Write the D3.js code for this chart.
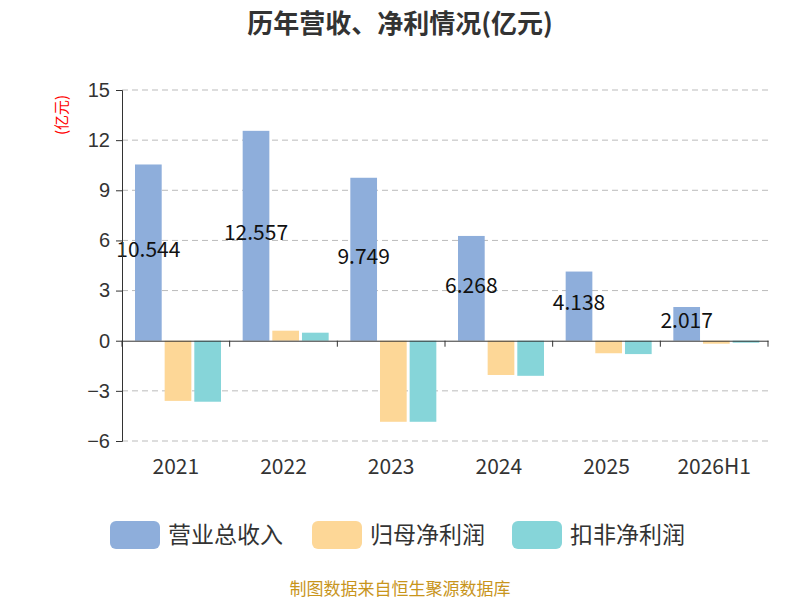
<!DOCTYPE html>
<html><head><meta charset="utf-8">
<script src="https://cdn.jsdelivr.net/npm/d3@7"></script>
<style>body{margin:0;background:#fff;font-family:"Noto Sans CJK SC","Noto Sans",sans-serif}</style>
</head><body><div id="wrapper"></div>
<script>
const years = ["2021", "2022", "2023", "2024", "2025", "2026H1"]
const seriesNames = ["营业总收入", "归母净利润", "扣非净利润"]
const revenue = [10.544, 12.557, 9.749, 6.268, 4.138, 2.017]
const netProfit = [-3.6, 0.6, -4.85, -2.05, -0.75, -0.18]
const deductedProfit = [-3.65, 0.48, -4.85, -2.1, -0.8, -0.12]
const yTicks = [-6, -3, 0, 3, 6, 9, 12, 15]
const colors = ["#8eaedb", "#fdd797", "#86d5d9"]

const dimensions = {width: 800, height: 600, margin: {top: 90, right: 32, bottom: 159, left: 122}}
dimensions.boundedWidth = dimensions.width - dimensions.margin.left - dimensions.margin.right
dimensions.boundedHeight = dimensions.height - dimensions.margin.top - dimensions.margin.bottom

const svg = d3.select("#wrapper").append("svg")
  .attr("width", dimensions.width).attr("height", dimensions.height)

svg.append("text").attr("x", 400).attr("y", 33).attr("text-anchor", "middle")
  .style("font-size", "26px").style("font-weight", "bold").attr("fill", "#333")
  .text("历年营收、净利情况(亿元)")

const bounds = svg.append("g")
  .attr("transform", `translate(${dimensions.margin.left},${dimensions.margin.top})`)

const yScale = d3.scaleLinear().domain([-6, 15]).range([dimensions.boundedHeight, 0])
const xScale = d3.scaleBand().domain(years).range([0, dimensions.boundedWidth])
const inner = d3.scaleBand().domain([0, 1, 2]).range([13, 99]).paddingInner(0.1)

bounds.selectAll(".grid").data(yTicks.filter(d => d !== 0)).join("line")
  .attr("x1", 0).attr("x2", dimensions.boundedWidth)
  .attr("y1", d => yScale(d)).attr("y2", d => yScale(d))
  .attr("stroke", "#bbb").attr("stroke-dasharray", "6 4")

const series = [revenue, netProfit, deductedProfit]
series.forEach((vals, s) => {
  bounds.selectAll(".bar" + s).data(vals).join("rect")
    .attr("x", (d, i) => xScale(years[i]) + inner(s))
    .attr("width", inner.bandwidth())
    .attr("y", d => yScale(Math.max(0, d)))
    .attr("height", d => Math.abs(yScale(d) - yScale(0)))
    .attr("fill", colors[s])
})

bounds.selectAll(".lbl").data(revenue).join("text")
  .attr("x", (d, i) => xScale(years[i]) + inner(0) + inner.bandwidth() / 2)
  .attr("y", d => (yScale(d) + yScale(0)) / 2 - 3)
  .attr("dy", "0.35em").attr("text-anchor", "middle")
  .style("font-size", "21px").attr("fill", "#111")
  .text(d => d3.format(".3f")(d))

const yAxis = bounds.append("g")
  .call(d3.axisLeft(yScale).tickValues(yTicks).tickSize(6).tickPadding(6))
yAxis.selectAll("text").style("font-size", "20px").attr("fill", "#333")
yAxis.selectAll("line,path").attr("stroke", "#333")

const xAxis = bounds.append("g").attr("transform", `translate(0,${yScale(0)})`)
  .call(d3.axisBottom(xScale).tickSize(0).tickFormat(""))
xAxis.select(".domain").attr("stroke", "#333")
bounds.selectAll(".xt").data(d3.range(years.length + 1)).join("line")
  .attr("x1", d => d * xScale.step()).attr("x2", d => d * xScale.step())
  .attr("y1", yScale(0)).attr("y2", yScale(0) + 6).attr("stroke", "#333")
bounds.selectAll(".xl").data(years).join("text")
  .attr("x", d => xScale(d) + xScale.bandwidth() / 2)
  .attr("y", dimensions.boundedHeight + 33)
  .attr("text-anchor", "middle").style("font-size", "21px").attr("fill", "#333")
  .text(d => d)

svg.append("text").attr("transform", "translate(67,115) rotate(-90)")
  .attr("text-anchor", "middle").style("font-size", "15px").attr("fill", "red").text("(亿元)")

const legendX = [110, 312, 512]
seriesNames.forEach((n, i) => {
  svg.append("rect").attr("x", legendX[i]).attr("y", 521).attr("width", 50).attr("height", 28)
    .attr("rx", 6).attr("fill", colors[i])
  svg.append("text").attr("x", legendX[i] + 58).attr("y", 535).attr("dy", "0.35em")
    .style("font-size", "23px").attr("fill", "#333").text(n)
})

svg.append("text").attr("x", 400).attr("y", 595).attr("text-anchor", "middle")
  .style("font-size", "17px").attr("fill", "#c8951c").text("制图数据来自恒生聚源数据库")
</script></body></html>
